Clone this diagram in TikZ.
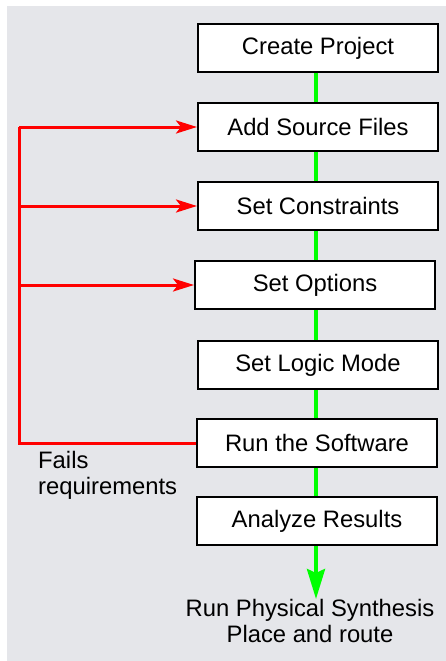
\documentclass[tikz,border=0pt]{standalone}
\usepackage{fontspec}
\setmainfont{Liberation Sans}
\usetikzlibrary{arrows.meta}
\definecolor{panel}{RGB}{229,230,234}
\definecolor{flowgreen}{RGB}{0,255,0}
\definecolor{loopred}{RGB}{255,0,0}
\begin{document}
\begin{tikzpicture}[x=1pt,y=-1pt,
  stepbox/.style={draw=black,line width=2pt,fill=white,
    minimum width=240pt,minimum height=48pt,inner sep=0pt,
    font=\fontsize{23.8}{26}\selectfont},
  textlbl/.style={inner sep=0pt,font=\fontsize{23.8}{26}\selectfont},
  flow/.style={draw=flowgreen,line width=4pt},
  loop/.style={draw=loopred,line width=3pt,line join=miter},
  looptip/.style={loop,-{Stealth[length=21pt,width=13pt,inset=5pt]}},
]
\useasboundingbox (0,0) rectangle (445,661);
\fill[panel] (7,6) rectangle (450,670);

% guide coordinates for the two vertical runs
\coordinate (gx) at (316,0);
\coordinate (bus) at (19,0);

% process steps
\node[stepbox] (create) at (318,48)  {Create Project};
\node[stepbox] (add)    at (318,127) {Add Source Files};
\node[stepbox] (cons)   at (318,206) {Set Constraints};
\node[stepbox] (opts)   at (315,285) {Set Options};
\node[stepbox] (logic)  at (318,365) {Set Logic Mode};
\node[stepbox] (run)    at (317,443) {Run the Software};
\node[stepbox] (ana)    at (317,521) {Analyze Results};

\node[textlbl,align=center,anchor=north] (out) at (310,599)
  {Run Physical Synthesis\\Place and route};
\node[textlbl,align=left,anchor=north west] (fail) at (38,451)
  {Fails\\requirements};

% main flow
\draw[flow] (create.south -| gx) -- (add.north -| gx);
\draw[flow] (add.south -| gx) -- (cons.north -| gx);
\draw[flow] (cons.south -| gx) -- (opts.north -| gx);
\draw[flow] (opts.south -| gx) -- (logic.north -| gx);
\draw[flow] (logic.south -| gx) -- (run.north -| gx);
\draw[flow] (run.south -| gx) -- (ana.north -| gx);
\draw[flow,-{Stealth[length=30pt,width=18pt,inset=4pt]}]
  (ana.south -| gx) -- (out.north -| gx);

% feedback loop
\draw[loop] (run.west) -- (run.west -| bus) -- (add.west -| bus);
\draw[looptip] (add.west -| bus) -- (add.west);
\draw[looptip] (cons.west -| bus) -- (cons.west);
\draw[looptip] (opts.west -| bus) -- (opts.west);
\end{tikzpicture}
\end{document}
